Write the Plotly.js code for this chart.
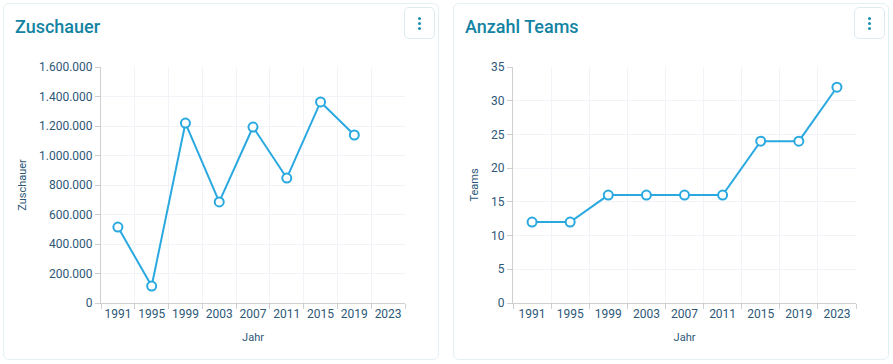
<!DOCTYPE html>
<html><head><meta charset="utf-8">
<script src="https://cdn.plot.ly/plotly-3.0.1.min.js"></script>
<style>
html,body{margin:0;padding:0;background:#fff;font-family:Roboto,sans-serif;}
.card{position:absolute;top:3px;width:434px;height:355px;border:1px solid #e3f1f5;border-radius:6px;background:#fff;overflow:hidden;}
.title{position:absolute;left:11px;top:12px;font-size:18px;font-weight:500;color:#1383a3;z-index:2;}
.btn{position:absolute;right:3px;top:3px;width:29px;height:30px;border:1px solid #dcebf0;border-radius:5px;z-index:2;background:#fff;}
.btn i{position:absolute;left:13px;width:3px;height:3px;border-radius:50%;background:#1b8fb3;}
.plot{position:absolute;left:0;top:0;width:434px;height:355px;}
</style></head><body>
<div class="card" style="left:3px"><div class="title">Zuschauer</div><div class="btn"><i style="top:9px"></i><i style="top:14px"></i><i style="top:19px"></i></div><div id="p1" class="plot"></div></div>
<div class="card" style="left:453px"><div class="title">Anzahl Teams</div><div class="btn"><i style="top:9px"></i><i style="top:14px"></i><i style="top:19px"></i></div><div id="p2" class="plot"></div></div>
<script>
const years = ["1991","1995","1999","2003","2007","2011","2015","2019","2023"];
const spectators = [515000, 115000, 1220000, 685000, 1193000, 847000, 1363000, 1139000, null];
const teams = [12, 12, 16, 16, 16, 16, 24, 24, 32];
const spectatorTicks = [0,200000,400000,600000,800000,1000000,1200000,1400000,1600000];
const teamTicks = [0,5,10,15,20,25,30,35];

const lineColor = '#2aa9e0';
const textColor = '#2d5877';
function trace(y){
  return {x: years, y: y, type:'scatter', mode:'lines+markers',
    line:{color:lineColor,width:2},
    marker:{symbol:'circle',size:9,color:'#fff',line:{color:lineColor,width:2}},
    connectgaps:false, hoverinfo:'x+y'};
}
function layout(l, r, ytitle, yrange, ytickvals){
  return {
    width:434, height:355,
    margin:{l:l, r:r, t:63, b:56},
    paper_bgcolor:'rgba(0,0,0,0)', plot_bgcolor:'#fff',
    separators:',.',
    font:{family:'Roboto, sans-serif', size:12, color:textColor},
    showlegend:false,
    xaxis:{type:'category', categoryorder:'array', categoryarray:years, range:[-0.5,8.5],
      tickson:'boundaries', ticks:'outside', ticklen:5, tickcolor:'#cfcfcf', tickangle:0,
      showgrid:true, gridcolor:'#f1f3f9', showline:true, linecolor:'#cfcfcf', linewidth:1,
      tickfont:{size:12,color:textColor},
      title:{text:'Jahr', font:{size:11,color:textColor}, standoff:12}},
    yaxis:{range:yrange, tickvals:ytickvals, tickformat:',d', ticks:'outside', ticklen:5, tickcolor:'#cfcfcf',
      showgrid:true, gridcolor:'#f1f3f9', showline:true, linecolor:'#cfcfcf', linewidth:1, zeroline:false,
      tickfont:{size:12,color:textColor},
      title:{text:ytitle, font:{size:11,color:textColor}, standoff:10}}
  };
}
Plotly.newPlot('p1',[trace(spectators)],layout(97,33,'Zuschauer',[0,1600000],spectatorTicks),{displayModeBar:false,staticPlot:true});
Plotly.newPlot('p2',[trace(teams)],layout(59,32,'Teams',[0,35],teamTicks),{displayModeBar:false,staticPlot:true});
</script>
</body></html>
